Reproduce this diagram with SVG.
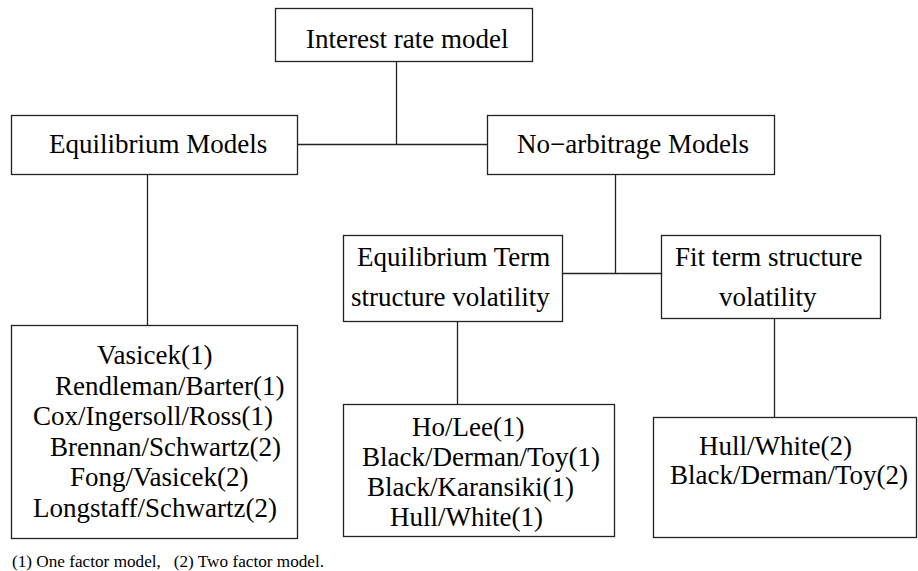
<svg xmlns="http://www.w3.org/2000/svg" width="918" height="571" viewBox="0 0 918 571">
<style>
.box{fill:#fff;stroke:#222;stroke-width:1.3}
.ln{stroke:#222;stroke-width:1.3;fill:none}
</style>
<rect width="918" height="571" fill="#fff"/>
<g id="connectors">
<line class="ln" x1="396.5" y1="61" x2="396.5" y2="144.5"/>
<line class="ln" x1="298" y1="144.5" x2="487" y2="144.5"/>
<line class="ln" x1="147.5" y1="174" x2="147.5" y2="325"/>
<line class="ln" x1="615.5" y1="174" x2="615.5" y2="273.5"/>
<line class="ln" x1="562" y1="273.5" x2="661" y2="273.5"/>
<line class="ln" x1="457.5" y1="321" x2="457.5" y2="404"/>
<line class="ln" x1="774.5" y1="318" x2="774.5" y2="417"/>
</g>
<g font-family="Liberation Serif, DejaVu Serif, serif" font-size="27" fill="#000">
<g id="interest-rate-model">
<rect class="box" x="275.5" y="8.5" width="257" height="53"/>
<text x="306" y="48">Interest rate model</text>
</g>
<g id="equilibrium-models">
<rect class="box" x="11.5" y="115.5" width="286" height="59"/>
<text x="49" y="153">Equilibrium Models</text>
</g>
<g id="no-arbitrage-models">
<rect class="box" x="487.5" y="115.5" width="287" height="59"/>
<text x="517" y="153">No−arbitrage Models</text>
</g>
<g id="equilibrium-term">
<rect class="box" x="343.5" y="235.5" width="219" height="86"/>
<text x="357" y="266">Equilibrium Term</text>
<text x="351" y="306">structure volatility</text>
</g>
<g id="fit-term">
<rect class="box" x="661.5" y="235.5" width="219" height="83"/>
<text x="675" y="266">Fit term structure</text>
<text x="719" y="306">volatility</text>
</g>
<g id="equilibrium-list">
<rect class="box" x="11.5" y="325.5" width="286" height="213"/>
<text x="97" y="364">Vasicek(1)</text>
<text x="55" y="394.6">Rendleman/Barter(1)</text>
<text x="33" y="425.2">Cox/Ingersoll/Ross(1)</text>
<text x="50" y="455.8">Brennan/Schwartz(2)</text>
<text x="70" y="486.4">Fong/Vasicek(2)</text>
<text x="33" y="517">Longstaff/Schwartz(2)</text>
</g>
<g id="equilibrium-term-list">
<rect class="box" x="343.5" y="404.5" width="271" height="132"/>
<text x="412" y="436">Ho/Lee(1)</text>
<text x="362" y="466">Black/Derman/Toy(1)</text>
<text x="367" y="496">Black/Karansiki(1)</text>
<text x="390" y="526">Hull/White(1)</text>
</g>
<g id="fit-term-list">
<rect class="box" x="653.5" y="417.5" width="263" height="120"/>
<text x="699" y="455">Hull/White(2)</text>
<text x="670" y="484">Black/Derman/Toy(2)</text>
</g>
<g id="footnote">
<text font-size="17.2" x="12" y="567" xml:space="preserve">(1) One factor model,   (2) Two factor model.</text>
</g>
</g>
</svg>
